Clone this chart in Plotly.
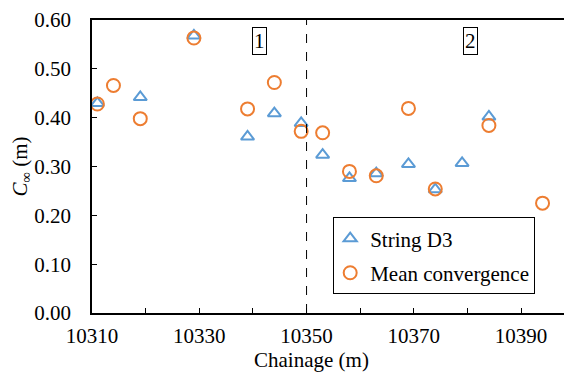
import plotly.graph_objects as go

# String D3
d3_x = [10311, 10319, 10329, 10339, 10344, 10349, 10353, 10358, 10363, 10369, 10374, 10379, 10384]
d3_y = [0.430, 0.442, 0.568, 0.361, 0.409, 0.389, 0.324, 0.276, 0.286, 0.305, 0.253, 0.307, 0.402]

# Mean convergence
mc_x = [10311, 10314, 10319, 10329, 10339, 10344, 10349, 10353, 10358, 10363, 10369, 10374, 10384, 10394]
mc_y = [0.428, 0.466, 0.398, 0.563, 0.418, 0.472, 0.372, 0.369, 0.290, 0.281, 0.419, 0.254, 0.384, 0.225]

y_ticks = [0.0, 0.1, 0.2, 0.3, 0.4, 0.5, 0.6]
y_tick_text = ["0.00", "0.10", "0.20", "0.30", "0.40", "0.50", "0.60"]
x_ticks = [10310, 10330, 10350, 10370, 10390]
x_tick_text = ["10310", "10330", "10350", "10370", "10390"]
x_minor_ticks = [10320, 10340, 10360, 10380]

FONT = "Liberation Serif"
FS = 21
BLUE = "#5B9BD5"
ORANGE = "#ED7D31"

fig = go.Figure()
fig.add_trace(go.Scatter(
    x=d3_x, y=d3_y, mode="markers", name="String D3", legendgroup="a",
    marker=dict(symbol="triangle-up-open", size=11.5, color=BLUE, line=dict(width=2, color=BLUE)),
))
fig.add_trace(go.Scatter(
    x=mc_x, y=mc_y, mode="markers", name="Mean convergence", legendgroup="b",
    marker=dict(symbol="circle-open", size=13, color=ORANGE, line=dict(width=2, color=ORANGE)),
))

fig.add_shape(type="line", x0=10350, x1=10350, y0=0, y1=0.6, xref="x", yref="y",
              line=dict(color="black", width=1, dash="dash"))

for txt, xv in [("1", 10341.2), ("2", 10380.6)]:
    fig.add_annotation(x=xv, y=0.5566, xref="x", yref="y", text=txt, showarrow=False,
                       font=dict(family=FONT, size=FS, color="black"),
                       bordercolor="black", borderwidth=1, borderpad=1, bgcolor="white")

fig.add_annotation(x=0.464, y=-0.1126, xref="paper", yref="paper", text="Chainage (m)",
                   showarrow=False, xanchor="center", yanchor="top",
                   font=dict(family=FONT, size=FS, color="black"))

fig.update_layout(
    width=564, height=374,
    margin=dict(l=92, r=0, t=20, b=61),
    paper_bgcolor="white", plot_bgcolor="white",
    font=dict(family=FONT, size=FS, color="black"),
    showlegend=True,
    legend=dict(x=0.511, y=0.3266, xanchor="left", yanchor="top",
                bordercolor="black", borderwidth=1, bgcolor="white",
                font=dict(family=FONT, size=FS, color="black"),
                itemwidth=30, tracegroupgap=4, indentation=-4),
    xaxis=dict(range=[10310, 10398], tickvals=x_ticks, ticktext=x_tick_text, ticks="inside", ticklen=5,
               showline=True, linecolor="black", linewidth=1.5, mirror=True,
               showgrid=False, zeroline=False, tickcolor="black", automargin=False,
               minor=dict(tickvals=x_minor_ticks, ticks="inside", ticklen=5, tickcolor="black"),
               tickfont=dict(family=FONT, size=FS), ticklabelstandoff=3),
    yaxis=dict(range=[0, 0.6], tickvals=y_ticks, ticktext=y_tick_text, ticks="inside", ticklen=5,
               showline=True, linecolor="black", linewidth=1.5, automargin=False,
               showgrid=False, zeroline=False, tickcolor="black",
               tickfont=dict(family=FONT, size=FS), ticklabelstandoff=15,
               title=dict(text="<i>C</i><sub>∞</sub> (m)", font=dict(family=FONT, size=FS), standoff=0)),
)

fig.write_html("out.html", config={"displayModeBar": False},
               post_script="document.body.style.margin='0';")
